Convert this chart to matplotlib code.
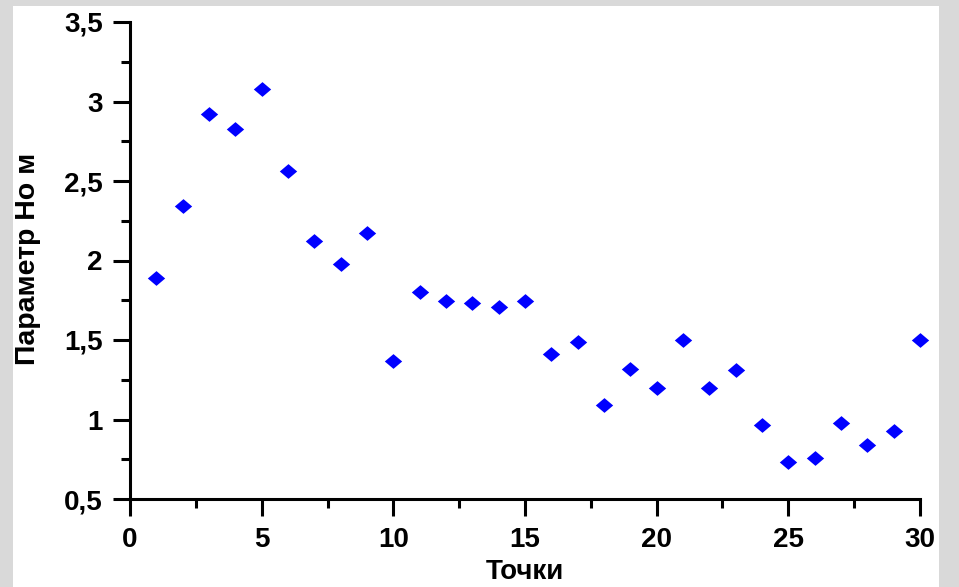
import numpy as np
import matplotlib
matplotlib.use("Agg")
from matplotlib import pyplot as plt
from matplotlib.patches import Rectangle
from matplotlib.ticker import MultipleLocator, FuncFormatter

# ==================== Données ====================
tochki = list(range(1, 31))
parametr = [1.89, 2.34, 2.92, 2.83, 3.08, 2.56, 2.12, 1.98, 2.17, 1.37,
            1.80, 1.745, 1.73, 1.71, 1.745, 1.41, 1.49, 1.09, 1.32, 1.20,
            1.50, 1.20, 1.31, 0.965, 0.73, 0.76, 0.98, 0.84, 0.93, 1.50]

x_label = "Точки"
y_label = "Параметр Но м"

plt.rcParams['font.family'] = ['Liberation Sans', 'DejaVu Sans']
plt.rcParams['font.weight'] = 'bold'

fig = plt.figure(figsize=(9.59, 5.87), dpi=100)
fig.patch.set_facecolor('#d9d9d9')
# fond blanc derrière le graphique
fond = Rectangle((13 / 959, 0), 926 / 959, 1 - 6 / 587,
                 transform=fig.transFigure, facecolor='white',
                 edgecolor='none', zorder=-10)
fig.add_artist(fond)

ax = fig.add_axes([130 / 959, 1 - 499 / 587, 790 / 959, 477 / 587])
ax.set_facecolor('white')

losange = [(-1, 0), (0, 0.85), (1, 0), (0, -0.85), (-1, 0)]
ax.plot(tochki, parametr, linestyle='none', marker=losange, markersize=12.5,
        color='#0000ff', markeredgewidth=0, clip_on=False)

ax.set_xlim(0, 30)
ax.set_ylim(0.5, 3.5)
ax.xaxis.set_major_locator(MultipleLocator(5))
ax.xaxis.set_minor_locator(MultipleLocator(2.5))
ax.yaxis.set_major_locator(MultipleLocator(0.5))
ax.yaxis.set_minor_locator(MultipleLocator(0.25))

virgule = FuncFormatter(lambda v, p: ('%g' % v).replace('.', ','))
ax.xaxis.set_major_formatter(virgule)
ax.yaxis.set_major_formatter(virgule)

for s in ['top', 'right']:
    ax.spines[s].set_visible(False)
for s in ['left', 'bottom']:
    ax.spines[s].set_linewidth(2.2)

ax.tick_params(which='major', length=12.5, width=2.2, labelsize=20)
ax.tick_params(axis='y', which='major', pad=7)
ax.tick_params(axis='x', which='major', pad=8)
ax.tick_params(which='minor', length=6.5, width=2.2)

ax.set_xlabel(x_label, fontsize=20, fontweight='bold')
ax.set_ylabel(y_label, fontsize=20.5, fontweight='bold')
ax.xaxis.set_label_coords(0.5, -0.126)
ax.yaxis.set_label_coords(-0.113, 0.504)

fig.savefig('out.png', dpi=100, facecolor=fig.get_facecolor())
